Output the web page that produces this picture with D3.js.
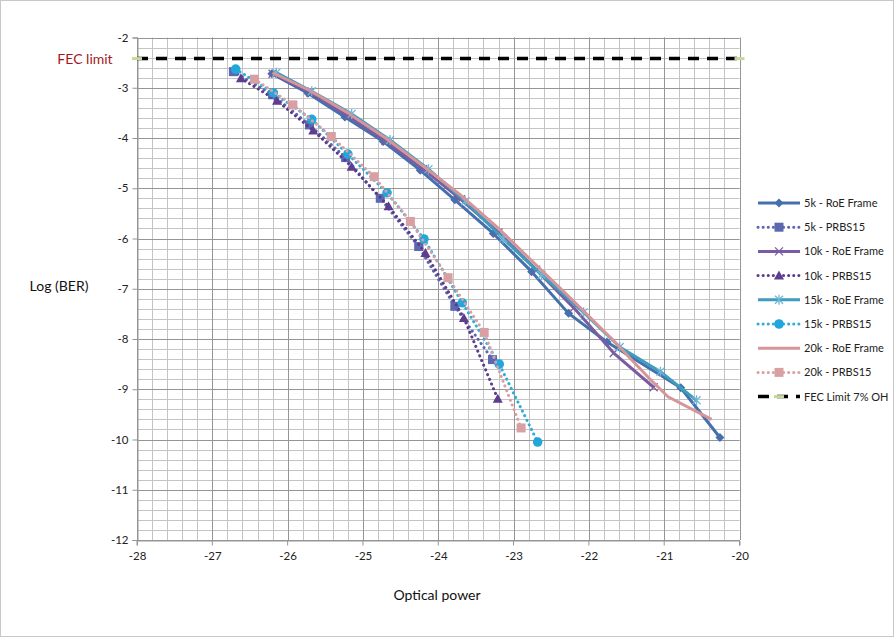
<!DOCTYPE html>
<html>
<head>
<meta charset="utf-8">
<script src="https://cdn.jsdelivr.net/npm/d3@7"></script>
<style>
  body { margin: 0; background: #fff; }
  text { font-family: Lato, "Open Sans", sans-serif; }
</style>
</head>
<body>
<div class="chart"></div>
<script>
// axis ticks
var xTicks = [-28, -27, -26, -25, -24, -23, -22, -21, -20];
var yTicks = [-2, -3, -4, -5, -6, -7, -8, -9, -10, -11, -12];
var fecLimit = -2.42;

// series: [optical power, log(BER)]
var roe5k = [[-26.21, -2.72], [-25.73, -3.11], [-25.24, -3.58], [-24.73, -4.07], [-24.24, -4.64], [-23.78, -5.23],
  [-23.27, -5.90], [-22.76, -6.66], [-22.27, -7.49], [-21.76, -8.06], [-20.78, -8.97], [-20.26, -9.96]];
var prbs5k = [[-26.72, -2.68], [-26.20, -3.14], [-25.71, -3.74], [-25.23, -4.39], [-24.77, -5.20], [-24.26, -6.16],
  [-23.78, -7.35], [-23.28, -8.41]];
var roe10k = [[-26.20, -2.72], [-25.70, -3.09], [-25.20, -3.56], [-24.70, -4.06], [-24.20, -4.62], [-23.70, -5.22],
  [-23.20, -5.88], [-22.70, -6.62], [-22.20, -7.38], [-21.67, -8.28], [-21.14, -8.96]];
var prbs10k = [[-26.62, -2.81], [-26.14, -3.26], [-25.66, -3.85], [-25.15, -4.57], [-24.66, -5.36], [-24.17, -6.29],
  [-23.66, -7.58], [-23.21, -9.19]];
var roe15k = [[-26.15, -2.70], [-25.68, -3.07], [-25.15, -3.52], [-24.64, -4.04], [-24.13, -4.62], [-23.64, -5.26],
  [-23.14, -6.00], [-22.63, -6.72], [-22.07, -7.47], [-21.59, -8.16], [-21.05, -8.65], [-20.57, -9.22]];
var prbs15k = [[-26.69, -2.63], [-26.19, -3.10], [-25.68, -3.63], [-25.20, -4.32], [-24.68, -5.09], [-24.19, -6.01],
  [-23.68, -7.28], [-23.19, -8.50], [-22.68, -10.05]];
var roe20k = [[-26.20, -2.70], [-25.70, -3.06], [-25.20, -3.50], [-24.70, -4.00], [-24.20, -4.56], [-23.70, -5.14],
  [-23.20, -5.80], [-22.70, -6.53], [-22.20, -7.25], [-21.70, -7.99], [-21.20, -8.78], [-20.95, -9.15], [-20.37, -9.60]];
var prbs20k = [[-26.44, -2.83], [-25.93, -3.34], [-25.42, -3.97], [-24.85, -4.77], [-24.37, -5.66], [-23.87, -6.78],
  [-23.39, -7.87], [-22.90, -9.77]];
var fecLine = [[-28, fecLimit], [-20, fecLimit]];

var seriesNames = ["5k - RoE Frame", "5k - PRBS15", "10k - RoE Frame", "10k - PRBS15",
  "15k - RoE Frame", "15k - PRBS15", "20k - RoE Frame", "20k - PRBS15", "FEC Limit 7% OH"];

function init() {
  var w = 894;
  var h = 637;
  var left = 137, right = 739.5, top = 37.5, bottom = 540;

  var series = [
    { data: roe5k, color: "#4470AE", dotted: false, marker: "diamond", mcolor: "#4470AE", width: 3 },
    { data: prbs5k, color: "#5A66AE", dotted: true, marker: "square", mcolor: "#5C68B0", width: 3 },
    { data: roe10k, color: "#7A5CA3", dotted: false, marker: "x", mcolor: "#7A5CA3", width: 3 },
    { data: prbs10k, color: "#5B3B8C", dotted: true, marker: "triangle", mcolor: "#5E3C8E", width: 3 },
    { data: roe15k, color: "#3C9DBE", dotted: false, marker: "star", mcolor: "#6FB6D6", width: 3 },
    { data: prbs15k, color: "#2FADD6", dotted: true, marker: "circle", mcolor: "#22A7DA", width: 3 },
    { data: roe20k, color: "#D69598", dotted: false, marker: "none", mcolor: "#D69598", width: 3 },
    { data: prbs20k, color: "#D9A0A4", dotted: true, marker: "square", mcolor: "#D9A0A4", width: 3 },
    { data: fecLine, color: "#000000", dotted: false, dashed: true, marker: "dash", mcolor: "#C6D89C", width: 3.5 }
  ];

  var xScale = d3.scaleLinear().domain([-28, -20]).range([left, right]);
  var yScale = d3.scaleLinear().domain([-2, -12]).range([top, bottom]);

  var svg = d3.select(".chart")
    .append("svg")
    .attr("width", w)
    .attr("height", h);

  svg.append("rect")
    .attr("x", 0.5).attr("y", 0.5)
    .attr("width", w - 1).attr("height", h - 1)
    .attr("fill", "#fff")
    .attr("stroke", "#C8C8C8");

  // minor grid every 0.2
  var minorX = d3.range(-28, -20.001, 0.2).map(function(d) { return Math.round(d * 10) / 10; });
  var minorY = d3.range(-2, -12.001, -0.2).map(function(d) { return Math.round(d * 10) / 10; });

  svg.append("g").selectAll("line")
    .data(minorX)
    .enter().append("line")
    .attr("x1", function(d) { return Math.round(xScale(d)) + 0.5; })
    .attr("x2", function(d) { return Math.round(xScale(d)) + 0.5; })
    .attr("y1", top).attr("y2", bottom)
    .attr("stroke", "#C4C4C4");

  svg.append("g").selectAll("line")
    .data(minorY)
    .enter().append("line")
    .attr("y1", function(d) { return Math.round(yScale(d)) + 0.5; })
    .attr("y2", function(d) { return Math.round(yScale(d)) + 0.5; })
    .attr("x1", left).attr("x2", right)
    .attr("stroke", "#C4C4C4");

  // major grid
  svg.append("g").selectAll("line")
    .data(xTicks)
    .enter().append("line")
    .attr("x1", function(d) { return Math.round(xScale(d)) + 0.5; })
    .attr("x2", function(d) { return Math.round(xScale(d)) + 0.5; })
    .attr("y1", top).attr("y2", bottom)
    .attr("stroke", "#959595");

  svg.append("g").selectAll("line")
    .data(yTicks)
    .enter().append("line")
    .attr("y1", function(d) { return Math.round(yScale(d)) + 0.5; })
    .attr("y2", function(d) { return Math.round(yScale(d)) + 0.5; })
    .attr("x1", left).attr("x2", right)
    .attr("stroke", "#959595");

  // axes (plain hyphen for negatives, like the original)
  var fmt = function(d) { return String(d); };
  var xAxis = d3.axisBottom(xScale).tickValues(xTicks).tickFormat(fmt).tickSize(5).tickPadding(6);
  var yAxis = d3.axisLeft(yScale).tickValues(yTicks).tickFormat(fmt).tickSize(5).tickPadding(4);

  var gx = svg.append("g")
    .attr("transform", "translate(0," + (Math.round(bottom) + 0.5) + ")")
    .call(xAxis);
  var gy = svg.append("g")
    .attr("transform", "translate(" + (Math.round(left) + 0.5) + ",0)")
    .call(yAxis);

  [gx, gy].forEach(function(g) {
    g.select(".domain").attr("stroke", "#959595");
    g.selectAll(".tick line").attr("stroke", "#959595");
    g.selectAll(".tick text")
      .attr("fill", "#222")
      .style("font-size", "11.5px")
      .style("font-family", "Lato, 'Open Sans', sans-serif");
  });
  gx.selectAll(".tick line").attr("transform", "translate(-0.5,0)");

  function markerPath(type) {
    if (type === "diamond") return "M0,-4.5L4.5,0L0,4.5L-4.5,0Z";
    if (type === "square") return "M-4.5,-4.5H4.5V4.5H-4.5Z";
    if (type === "triangle") return "M0,-5L5,4L-5,4Z";
    if (type === "circle") return d3.symbol().type(d3.symbolCircle).size(72)();
    if (type === "x") return "M-4,-4L4,4M-4,4L4,-4";
    if (type === "star") return "M-4,-4L4,4M-4,4L4,-4M0,-5L0,5";
    if (type === "dash") return "M-5,-1.5H5V1.5H-5Z";
    return "";
  }

  function drawMarker(g, s, x, y) {
    if (s.marker === "none") return;
    var stroked = s.marker === "x" || s.marker === "star";
    g.append("path")
      .attr("d", markerPath(s.marker))
      .attr("transform", "translate(" + x + "," + y + ")")
      .attr("fill", stroked ? "none" : s.mcolor)
      .attr("stroke", stroked ? s.mcolor : "none")
      .attr("stroke-width", stroked ? 1.3 : 0);
  }

  function styleLine(sel, s) {
    sel.attr("fill", "none")
      .attr("stroke", s.color)
      .attr("stroke-width", s.width);
    if (s.dotted) {
      sel.attr("stroke-dasharray", "0.1 5").attr("stroke-linecap", "round");
    } else if (s.dashed) {
      sel.attr("stroke-dasharray", "11 8");
    } else {
      sel.attr("stroke-linejoin", "round");
    }
  }

  var line = d3.line()
    .x(function(d) { return xScale(d[0]); })
    .y(function(d) { return yScale(d[1]); });

  series.forEach(function(s) {
    var g = svg.append("g");
    g.append("path").datum(s.data).attr("d", line).call(styleLine, s);
    s.data.forEach(function(d) {
      drawMarker(g, s, xScale(d[0]), yScale(d[1]));
    });
  });

  // axis titles
  svg.append("text")
    .attr("x", 437).attr("y", 600)
    .attr("text-anchor", "middle")
    .style("font-size", "14px")
    .attr("fill", "#111")
    .text("Optical power");

  svg.append("text")
    .attr("x", 59).attr("y", 291)
    .attr("text-anchor", "middle")
    .style("font-size", "14px")
    .attr("fill", "#111")
    .text("Log (BER)");

  svg.append("text")
    .attr("x", 85).attr("y", yScale(fecLimit) + 5)
    .attr("text-anchor", "middle")
    .style("font-size", "14px")
    .attr("fill", "#A5161C")
    .text("FEC limit");

  // legend
  var legend = svg.append("g")
    .attr("class", "legend")
    .attr("transform", "translate(758,203)");

  var legendItem = legend.selectAll(".legend-item")
    .data(series)
    .enter().append("g")
    .attr("class", "legend-item")
    .attr("transform", function(d, i) {
      return "translate(0," + (i * 24.2) + ")";
    });

  legendItem.each(function(s) {
    var g = d3.select(this);
    g.append("line")
      .attr("x1", 0).attr("x2", 42)
      .attr("y1", 0).attr("y2", 0)
      .call(styleLine, s);
    drawMarker(g, s, 21, 0);
  });

  legendItem.append("text")
    .attr("x", 46)
    .attr("y", 4)
    .style("font-size", "11px")
    .attr("fill", "#222")
    .text(function(d, i) { return seriesNames[i]; });
}

window.onload = init;
</script>
</body>
</html>
